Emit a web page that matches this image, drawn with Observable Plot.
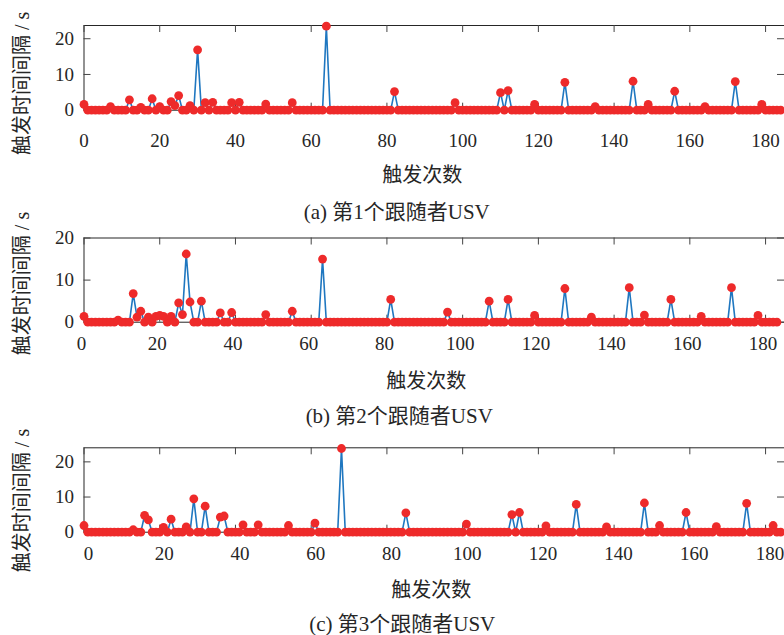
<!DOCTYPE html>
<html>
<head>
<meta charset="utf-8">
<script src="https://cdn.jsdelivr.net/npm/d3@7"></script>
<script src="https://cdn.jsdelivr.net/npm/@observablehq/plot@0.6"></script>
<style>
  html, body { margin: 0; padding: 0; background: #fff; }
  #chart svg { display: block; }
</style>
</head>
<body>
<div id="chart"></div>
<script>
// ---- data ----
const xTicks = [0, 20, 40, 60, 80, 100, 120, 140, 160, 180];
const yTicks = [0, 10, 20];
const xLabel = "触发次数";
const yLabel = "触发时间间隔 / s";
const captions = ["(a) 第1个跟随者USV", "(b) 第2个跟随者USV", "(c) 第3个跟随者USV"];

// number of triggers per follower
const countA = 185, countB = 184, countC = 185;
// non-zero trigger intervals (index, seconds); all other intervals are 0
const idxA = [0, 7, 12, 15, 18, 20, 23, 24, 25, 28, 30, 32, 34, 39, 41, 48, 55, 64, 82, 98, 110, 112, 119, 127, 135, 145, 149, 156, 164, 172, 179];
const valA = [1.6, 1.0, 2.9, 0.8, 3.2, 1.0, 2.4, 1.3, 4.1, 1.3, 16.9, 2.1, 2.2, 2.1, 2.2, 1.7, 2.1, 23.5, 5.2, 2.1, 4.9, 5.5, 1.6, 7.8, 1.0, 8.1, 1.6, 5.3, 1.0, 8.0, 1.6];
const idxB = [0, 9, 13, 14, 15, 17, 19, 20, 21, 23, 25, 26, 27, 28, 31, 36, 39, 48, 55, 63, 81, 96, 107, 112, 119, 127, 134, 144, 148, 155, 163, 171, 178];
const valB = [1.4, 0.5, 6.8, 1.2, 2.6, 1.2, 1.4, 1.6, 1.4, 1.4, 4.6, 1.8, 16.2, 4.8, 5.0, 2.2, 2.3, 1.8, 2.6, 15.0, 5.4, 2.4, 5.0, 5.4, 1.6, 8.0, 1.2, 8.2, 1.7, 5.4, 1.4, 8.2, 1.6];
const idxC = [0, 13, 16, 17, 21, 23, 27, 29, 32, 36, 37, 42, 46, 54, 61, 68, 85, 101, 113, 115, 122, 130, 138, 148, 152, 159, 167, 175, 182];
const valC = [1.9, 0.7, 4.8, 3.5, 1.4, 3.7, 1.5, 9.5, 7.4, 4.3, 4.6, 2.1, 2.1, 1.9, 2.6, 23.8, 5.5, 2.3, 5.0, 5.6, 1.8, 7.9, 1.5, 8.3, 1.9, 5.6, 1.6, 8.2, 1.9];

function series(n, idx, val) {
  const m = new Map(idx.map((k, i) => [k, val[i]]));
  return Array.from({length: n}, (_, i) => ({k: i, v: m.has(i) ? m.get(i) : 0}));
}

// ---- layout ----
const W = 784, ML = 83.5, MR = 0;
const panels = [
  {data: series(countA, idxA, valA), ymax: 23.7, h: 222, mt: 25, mb: 112.3, tickPad: 23, tickDx: 0, lblDy: 65, lblDx: -12, capDy: 101.7, capDx: -37.5, ytDy: 15.5, cap: captions[0]},
  {data: series(countB, idxB, valB), ymax: 20, h: 208, mt: 15.5, mb: 108.3, tickPad: 14.5, tickDx: -2.5, lblDy: 59.3, lblDx: -8, capDy: 94.3, capDx: -35, ytDy: 3.4, cap: captions[1]},
  {data: series(countC, idxC, valC), ymax: 24, h: 205, mt: 17.3, mb: 103.3, tickPad: 14.5, tickDx: 4.5, lblDy: 58.3, lblDx: -3, capDy: 91.6, capDx: -32, ytDy: 10.5, cap: captions[2]}
];

const ink = "#262626";
const cjk = "'Liberation Serif', 'Noto Sans CJK SC', serif";
const root = document.getElementById("chart");

for (const p of panels) {
  const fw = W - ML - MR;
  const fh = p.h - p.mt - p.mb;
  const svg = Plot.plot({
    width: W,
    height: p.h,
    marginLeft: ML,
    marginRight: MR,
    marginTop: p.mt,
    marginBottom: p.mb,
    style: {fontFamily: "'Liberation Serif', serif", fontSize: "19px", color: ink, background: "#fff", overflow: "visible"},
    x: {domain: [0, 185]},
    y: {domain: [0, p.ymax]},
    marks: [
      Plot.frame({stroke: ink, strokeWidth: 1}),
      Plot.tickX(xTicks, {x: d => d, insetTop: fh - 7, stroke: "#444"}),
      Plot.tickX(xTicks, {x: d => d, insetBottom: fh - 7, stroke: "#444"}),
      Plot.tickY(yTicks, {y: d => d, insetRight: fw - 7, stroke: "#444"}),
      Plot.tickY(yTicks, {y: d => d, insetLeft: fw - 7, stroke: "#444"}),
      Plot.axisX({ticks: xTicks, tickSize: 0, tickPadding: p.tickPad, dx: p.tickDx, label: null, fontSize: 19}),
      Plot.axisY({ticks: yTicks, tickSize: 0, tickPadding: 10, label: null, fontSize: 19}),
      Plot.line(p.data, {x: "k", y: "v", stroke: "#1f77c0", strokeWidth: 1.6}),
      Plot.dot(p.data, {x: "k", y: "v", r: 4.4, fill: "#ee2a2a", stroke: "none"}),
      Plot.text([xLabel], {text: d => d, frameAnchor: "bottom", textAnchor: "middle", lineAnchor: "middle", dy: p.lblDy, dx: p.lblDx, fontSize: 20, fontFamily: cjk, fill: ink}),
      Plot.text([p.cap], {text: d => d, frameAnchor: "bottom", textAnchor: "middle", lineAnchor: "middle", dy: p.capDy, dx: p.capDx, fontSize: 21, fontFamily: cjk, fill: ink}),
      Plot.text([yLabel], {text: d => d, frameAnchor: "left", textAnchor: "middle", lineAnchor: "middle", rotate: -90, dx: -61.5, dy: p.ytDy, fontSize: 20, fontFamily: cjk, fill: ink})
    ]
  });
  root.appendChild(svg);
}
</script>
</body>
</html>
